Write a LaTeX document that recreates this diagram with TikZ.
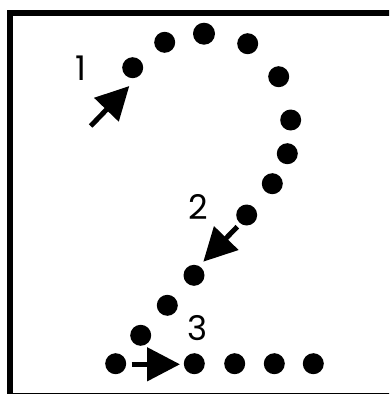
\documentclass[tikz,border=0pt]{standalone}
\usepackage{fontspec}
\setmainfont{Poppins}
\usetikzlibrary{arrows.meta}

\tikzset{
  dot/.style={circle, fill=black, inner sep=0pt, minimum size=21pt},
  numlabel/.style={inner sep=0pt, font=\fontsize{34}{34}\selectfont},
  strokearrow/.style={->, line width=5pt}
}

\begin{document}
\begin{tikzpicture}[x=1pt, y=-1pt, >={Triangle[length=33pt,width=33pt]}]
    \useasboundingbox (0,0) rectangle (389,394);
    \clip (0,0) rectangle (389,394);

    \draw[line width=6pt] (10,13) rectangle (395,396.2);

    % the dots of the numeral
    \node[dot] (d1) at (132.7,67.7) {};
    \node[dot] (d2) at (164.7,42.3) {};
    \node[dot, minimum size=22pt] (d3) at (204,33.7) {};
    \node[dot] (d4) at (247.7,43.7) {};
    \node[dot] (d5) at (278.7,76.7) {};
    \node[dot] (d6) at (290.7,120) {};
    \node[dot] (d7) at (287.3,153.7) {};
    \node[dot] (d8) at (272.3,183.7) {};
    \node[dot] (d9) at (246.7,215) {};
    \node[dot] (d10) at (194,275.3) {};
    \node[dot] (d11) at (167.3,305.3) {};
    \node[dot] (d12) at (140.7,335.3) {};

    % bottom row
    \node[dot] (b1) at (115.7,363.7) {};
    \node[dot] (b2) at (194.3,363.7) {};
    \node[dot] (b3) at (234.7,363.7) {};
    \node[dot] (b4) at (274.3,363.7) {};
    \node[dot] (b5) at (313.3,363.7) {};

    % stroke order
    \node[numlabel] (n1) at (81,68) {1};
    \node[numlabel] (n2) at (198,206.7) {2};
    \node[numlabel] (n3) at (197.3,328.3) {3};

    \coordinate (a1s) at (90.7,126);
    \coordinate (a1e) at (129.3,86);
    \coordinate (a2s) at (237.3,226.7);
    \coordinate (a2e) at (203.3,261.7);
    \coordinate (a3s) at (131.7,364.3);
    \coordinate (a3e) at (180,364.3);

    \draw[strokearrow] (a1s) -- (a1e);
    \draw[strokearrow] (a2s) -- (a2e);
    \draw[strokearrow] (a3s) -- (a3e);
\end{tikzpicture}
\end{document}
